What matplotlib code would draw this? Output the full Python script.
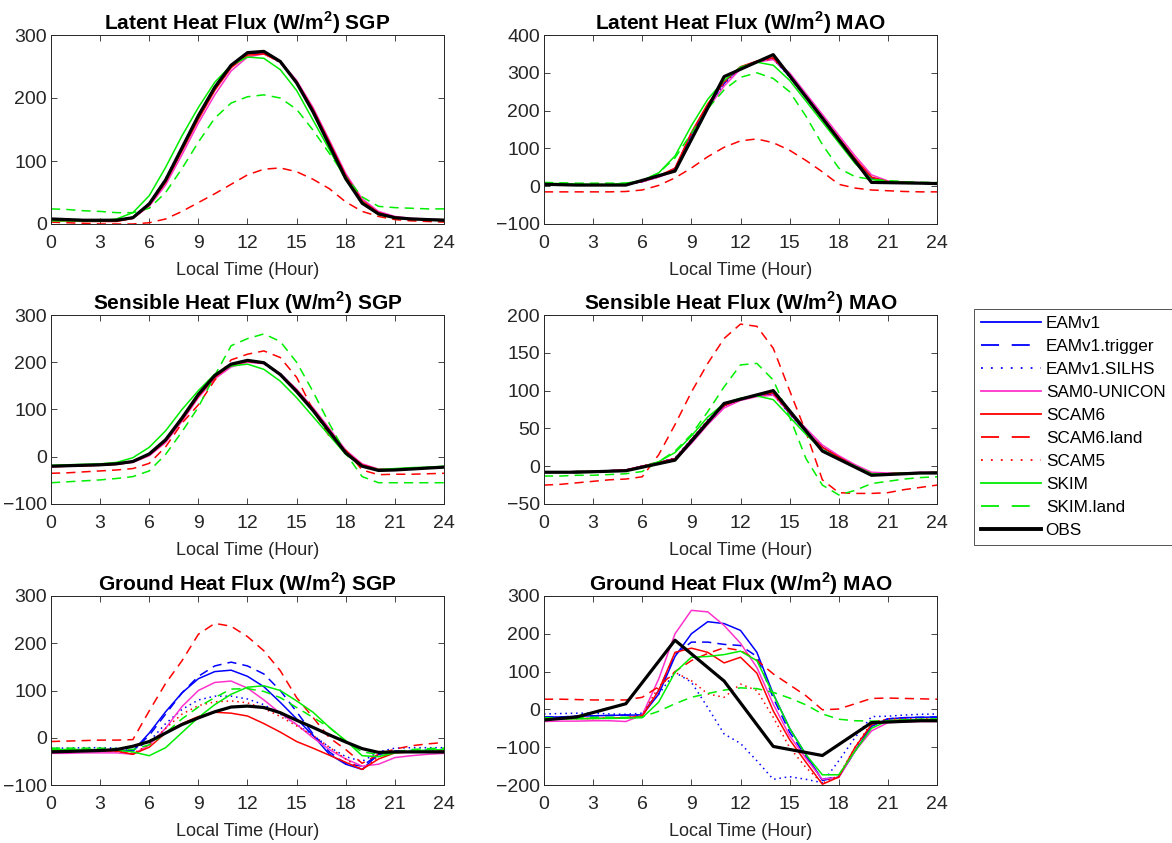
import numpy as np
import matplotlib
matplotlib.use("Agg")
import matplotlib.pyplot as plt
from matplotlib.lines import Line2D

plt.rcParams["font.family"] = ["Liberation Sans", "DejaVu Sans"]
plt.rcParams["mathtext.fontset"] = "custom"
plt.rcParams["mathtext.rm"] = "Liberation Sans"
plt.rcParams["mathtext.bf"] = "Liberation Sans:bold"

HOURS = list(range(25))
OBS_MAO_HOURS = [0, 2, 5, 8, 11, 14, 17, 20, 23, 24]

MODELS = ["EAMv1", "EAMv1.trigger", "EAMv1.SILHS", "SAM0-UNICON", "SCAM6",
          "SCAM6.land", "SCAM5", "SKIM", "SKIM.land", "OBS"]

# ---- Latent heat flux, SGP ----
lh_sgp = {
    "EAMv1":         [7, 6, 5, 5, 5, 10, 32, 70, 120, 170, 215, 250, 270, 272, 258, 225, 180, 128, 75, 35, 18, 10, 8, 7, 6],
    "EAMv1.trigger": [7, 6, 5, 5, 5, 10, 31, 68, 118, 168, 214, 250, 271, 273, 258, 226, 182, 130, 77, 36, 18, 10, 8, 7, 6],
    "EAMv1.SILHS":   [7, 6, 5, 5, 5, 11, 33, 72, 122, 172, 216, 251, 270, 271, 256, 224, 179, 127, 74, 34, 17, 10, 8, 7, 6],
    "SAM0-UNICON":   [6, 5, 5, 5, 5, 9, 28, 62, 110, 160, 205, 243, 265, 270, 258, 228, 185, 133, 80, 40, 20, 12, 9, 8, 7],
    "SCAM6":         [5, 5, 4, 4, 4, 9, 30, 66, 116, 166, 212, 248, 268, 270, 257, 226, 182, 130, 77, 37, 18, 11, 8, 7, 6],
    "SCAM6.land":    [3, 2, 1, 0, 0, 0, 2, 8, 20, 34, 48, 63, 78, 87, 89, 83, 71, 56, 35, 20, 12, 7, 5, 4, 3],
    "SCAM5":         [6, 5, 5, 5, 5, 10, 31, 68, 118, 168, 213, 249, 269, 271, 257, 225, 181, 129, 76, 36, 18, 10, 8, 7, 6],
    "SKIM":          [5, 5, 5, 5, 8, 18, 45, 90, 140, 185, 225, 252, 265, 263, 245, 212, 165, 118, 70, 35, 15, 10, 8, 7, 7],
    "SKIM.land":     [24, 23, 21, 20, 18, 18, 25, 50, 88, 130, 168, 192, 202, 205, 200, 182, 149, 112, 75, 43, 28, 26, 25, 24, 24],
    "OBS":           [8, 7, 6, 6, 6, 10, 32, 70, 121, 172, 217, 252, 272, 274, 258, 224, 178, 125, 72, 33, 16, 10, 8, 7, 6],
}

# ---- Latent heat flux, MAO ----
lh_mao = {
    "EAMv1":         [5, 4, 3, 3, 3, 5, 12, 25, 45, 140, 215, 275, 315, 330, 338, 290, 235, 180, 125, 70, 22, 12, 10, 8, 7],
    "EAMv1.trigger": [5, 4, 3, 3, 3, 5, 12, 25, 44, 138, 212, 272, 314, 330, 338, 291, 236, 181, 126, 71, 22, 12, 10, 8, 7],
    "EAMv1.SILHS":   [5, 4, 3, 3, 3, 5, 12, 26, 47, 135, 210, 270, 313, 331, 337, 289, 234, 179, 124, 69, 21, 12, 10, 8, 7],
    "SAM0-UNICON":   [4, 3, 3, 3, 3, 5, 12, 24, 40, 125, 205, 265, 310, 328, 335, 300, 245, 190, 135, 80, 30, 14, 11, 9, 8],
    "SCAM6":         [5, 4, 3, 3, 3, 5, 13, 27, 48, 142, 218, 277, 316, 331, 340, 293, 238, 183, 128, 73, 24, 12, 10, 8, 7],
    "SCAM6.land":    [-15, -15, -15, -15, -15, -14, -10, 2, 22, 48, 78, 103, 120, 125, 115, 95, 68, 38, 5, -5, -10, -12, -14, -15, -15],
    "SCAM5":         [5, 4, 3, 3, 3, 5, 12, 25, 45, 138, 214, 273, 314, 330, 337, 291, 236, 181, 126, 71, 23, 12, 10, 8, 7],
    "SKIM":          [8, 7, 6, 5, 5, 8, 15, 35, 80, 160, 230, 280, 315, 328, 320, 280, 225, 170, 115, 60, 18, 12, 10, 9, 8],
    "SKIM.land":     [10, 9, 8, 8, 8, 8, 15, 35, 75, 140, 205, 255, 288, 300, 285, 250, 185, 110, 48, 25, 18, 15, 12, 10, 10],
    "OBS":           [5, 3, 3, 40, 290, 348, 180, 10, 8, 7],
}

# ---- Sensible heat flux, SGP ----
sh_sgp = {
    "EAMv1":         [-20, -19, -18, -17, -15, -10, 5, 35, 80, 130, 170, 195, 203, 198, 175, 140, 100, 55, 10, -18, -28, -27, -25, -23, -22],
    "EAMv1.trigger": [-20, -19, -18, -17, -15, -10, 5, 34, 79, 129, 170, 195, 203, 198, 176, 141, 101, 56, 11, -18, -28, -27, -25, -23, -22],
    "EAMv1.SILHS":   [-20, -19, -18, -17, -15, -10, 6, 36, 81, 131, 171, 195, 202, 197, 174, 139, 99, 54, 9, -19, -28, -27, -25, -23, -22],
    "SAM0-UNICON":   [-21, -20, -19, -18, -16, -12, 2, 30, 75, 125, 165, 190, 200, 197, 176, 143, 104, 60, 14, -15, -26, -26, -24, -23, -22],
    "SCAM6":         [-21, -20, -19, -18, -16, -11, 4, 33, 78, 128, 168, 194, 202, 198, 175, 141, 101, 56, 11, -17, -27, -27, -25, -23, -22],
    "SCAM6.land":    [-35, -34, -32, -30, -28, -25, -14, 21, 71, 110, 162, 205, 217, 224, 210, 168, 99, 43, 14, -28, -38, -37, -37, -36, -35],
    "SCAM5":         [-20, -19, -18, -17, -15, -10, 5, 34, 79, 129, 169, 194, 202, 198, 175, 140, 100, 55, 10, -18, -27, -27, -25, -23, -22],
    "SKIM":          [-18, -17, -16, -15, -12, -2, 20, 55, 100, 140, 175, 192, 196, 185, 160, 125, 85, 45, 5, -20, -27, -25, -23, -22, -20],
    "SKIM.land":     [-55, -53, -51, -49, -46, -42, -30, 5, 53, 105, 172, 235, 250, 260, 244, 200, 138, 70, 7, -42, -55, -55, -55, -55, -55],
    "OBS":           [-20, -19, -18, -17, -15, -10, 6, 36, 82, 132, 172, 196, 204, 199, 174, 138, 98, 53, 8, -20, -29, -28, -26, -24, -22],
}

# ---- Sensible heat flux, MAO ----
sh_mao = {
    "EAMv1":         [-8, -8, -7, -7, -6, -5, 0, 5, 10, 35, 60, 80, 88, 93, 96, 70, 45, 25, 12, 0, -10, -10, -9, -9, -8],
    "EAMv1.trigger": [-8, -8, -7, -7, -6, -5, 0, 5, 10, 34, 59, 80, 88, 93, 96, 70, 46, 25, 12, 0, -10, -10, -9, -9, -8],
    "EAMv1.SILHS":   [-8, -8, -7, -7, -6, -5, 0, 5, 11, 36, 61, 81, 88, 93, 95, 69, 45, 24, 12, 0, -10, -10, -9, -9, -8],
    "SAM0-UNICON":   [-8, -8, -7, -7, -6, -5, 0, 4, 8, 30, 55, 77, 87, 92, 94, 72, 50, 28, 14, 2, -8, -9, -9, -8, -8],
    "SCAM6":         [-8, -8, -7, -7, -6, -5, 0, 5, 10, 35, 60, 80, 89, 94, 97, 71, 46, 25, 12, 0, -10, -10, -9, -9, -8],
    "SCAM6.land":    [-25, -24, -22, -20, -18, -17, -14, 15, 55, 98, 136, 169, 188, 185, 156, 100, 45, -18, -35, -36, -36, -35, -31, -28, -25],
    "SCAM5":         [-8, -8, -7, -7, -6, -5, 0, 5, 10, 35, 60, 80, 88, 93, 96, 70, 45, 25, 12, 0, -10, -10, -9, -9, -8],
    "SKIM":          [-8, -8, -7, -7, -6, -6, -1, 6, 18, 40, 65, 83, 90, 93, 88, 65, 42, 22, 10, 0, -10, -10, -9, -9, -8],
    "SKIM.land":     [-13, -13, -12, -12, -11, -10, -7, 6, 20, 42, 72, 105, 134, 136, 114, 65, 10, -25, -38, -32, -23, -20, -17, -15, -14],
    "OBS":           [-8, -8, -6, 8, 83, 100, 20, -12, -9, -9],
}

# ---- Ground heat flux, SGP ----
gh_sgp = {
    "EAMv1":         [-28, -28, -27, -27, -27, -28, 10, 55, 95, 125, 140, 143, 130, 108, 75, 40, 5, -35, -56, -67, -35, -30, -30, -28, -28],
    "EAMv1.trigger": [-25, -25, -25, -25, -26, -28, 5, 50, 95, 130, 152, 160, 152, 135, 100, 55, 8, -30, -55, -60, -35, -28, -27, -26, -25],
    "EAMv1.SILHS":   [-22, -22, -21, -21, -22, -25, -8, 30, 60, 80, 88, 88, 82, 70, 50, 28, 5, -20, -40, -50, -30, -22, -21, -21, -21],
    "SAM0-UNICON":   [-33, -33, -32, -32, -32, -35, -15, 20, 66, 100, 117, 120, 105, 80, 52, 28, 0, -25, -45, -60, -56, -42, -38, -35, -33],
    "SCAM6":         [-28, -28, -28, -28, -28, -35, -20, 10, 30, 45, 54, 52, 46, 30, 12, -8, -22, -37, -52, -67, -45, -32, -30, -29, -28],
    "SCAM6.land":    [-8, -7, -6, -5, -5, -4, 57, 115, 163, 219, 242, 236, 214, 184, 142, 85, 43, 0, -25, -54, -35, -24, -17, -13, -10],
    "SCAM5":         [-28, -28, -28, -28, -29, -33, -15, 20, 50, 68, 76, 78, 74, 62, 45, 25, 5, -20, -45, -68, -40, -30, -28, -28, -28],
    "SKIM":          [-25, -25, -25, -25, -26, -30, -38, -21, 11, 43, 70, 92, 107, 110, 100, 78, 54, 22, -6, -38, -40, -32, -28, -26, -25],
    "SKIM.land":     [-22, -22, -22, -22, -23, -25, -15, 10, 40, 65, 85, 103, 104, 98, 85, 64, 43, 22, -8, -30, -35, -30, -25, -23, -22],
    "OBS":           [-30, -29, -28, -27, -25, -18, -8, 10, 28, 42, 55, 65, 67, 64, 53, 37, 22, 6, -9, -23, -31, -30, -30, -30, -30],
}

# ---- Ground heat flux, MAO ----
gh_mao = {
    "EAMv1":         [-20, -20, -18, -17, -16, -15, -15, 40, 140, 200, 232, 227, 209, 151, 41, -50, -120, -188, -179, -110, -45, -25, -22, -21, -20],
    "EAMv1.trigger": [-20, -20, -18, -17, -16, -15, -15, 50, 145, 178, 178, 172, 169, 140, 30, -60, -125, -185, -178, -110, -40, -25, -22, -21, -20],
    "EAMv1.SILHS":   [-12, -11, -10, -10, -12, -13, -10, 40, 98, 72, 5, -65, -90, -136, -185, -178, -185, -194, -136, -74, -19, -18, -15, -13, -12],
    "SAM0-UNICON":   [-32, -31, -31, -30, -30, -32, -15, 80, 200, 262, 258, 222, 175, 111, 14, -70, -130, -185, -180, -110, -57, -35, -33, -32, -32],
    "SCAM6":         [-25, -25, -24, -24, -23, -22, -18, 50, 151, 162, 151, 123, 138, 96, -4, -80, -140, -198, -179, -100, -40, -30, -28, -27, -26],
    "SCAM6.land":    [27, 27, 26, 25, 25, 25, 32, 60, 100, 129, 148, 163, 156, 130, 94, 65, 36, -1, 1, 15, 29, 30, 29, 28, 27],
    "SCAM5":         [-25, -25, -24, -24, -23, -22, -15, 60, 98, 76, 41, 32, 67, 50, -21, -101, -154, -195, -175, -100, -35, -25, -25, -25, -25],
    "SKIM":          [-25, -25, -25, -24, -24, -23, -22, 19, 98, 138, 140, 145, 154, 129, 40, -50, -120, -173, -173, -110, -50, -30, -28, -27, -26],
    "SKIM.land":     [-22, -22, -22, -21, -21, -21, -20, -5, 15, 32, 42, 51, 57, 55, 45, 30, 12, -12, -26, -30, -31, -30, -28, -26, -25],
    "OBS":           [-28, -20, 15, 183, 75, -98, -122, -35, -30, -30],
}

DASH = (0, (6, 4))
DOT = (0, (1, 2.5))
STYLE = {
    "EAMv1":         ("#0000ff", "-"),
    "EAMv1.trigger": ("#0000ff", DASH),
    "EAMv1.SILHS":   ("#0000ff", DOT),
    "SAM0-UNICON":   ("#ff33cc", "-"),
    "SCAM6":         ("#ff0000", "-"),
    "SCAM6.land":    ("#ff0000", DASH),
    "SCAM5":         ("#ff0000", DOT),
    "SKIM":          ("#00ee00", "-"),
    "SKIM.land":     ("#00ee00", DASH),
    "OBS":           ("#000000", "-"),
}
LEG_LS = {"-": "-", DASH: (0, (10, 7)), DOT: (0, (1, 4.5))}

PANELS = [
    (lh_sgp, "Latent", "SGP", (0, 300), [0, 100, 200, 300], HOURS),
    (lh_mao, "Latent", "MAO", (-100, 400), [-100, 0, 100, 200, 300, 400], OBS_MAO_HOURS),
    (sh_sgp, "Sensible", "SGP", (-100, 300), [-100, 0, 100, 200, 300], HOURS),
    (sh_mao, "Sensible", "MAO", (-50, 200), [-50, 0, 50, 100, 150, 200], OBS_MAO_HOURS),
    (gh_sgp, "Ground", "SGP", (-100, 300), [-100, 0, 100, 200, 300], HOURS),
    (gh_mao, "Ground", "MAO", (-200, 300), [-200, -100, 0, 100, 200, 300], OBS_MAO_HOURS),
]

W, H = 1172, 843
fig = plt.figure(figsize=(W / 100, H / 100), dpi=100)
fig.patch.set_facecolor("white")

col_left = [51, 544]
col_w = 393
row_top = [35, 315, 596]
row_h = 189
AX_COL = "#262626"

for i, (data, kind, site, ylim, yticks, obs_x) in enumerate(PANELS):
    r, c = divmod(i, 2)
    ax = fig.add_axes([col_left[c] / W, 1 - (row_top[r] + row_h) / H, col_w / W, row_h / H])
    for name in MODELS:
        color, ls = STYLE[name]
        x = obs_x if name == "OBS" else HOURS
        lw = 2.3 if name == "OBS" else 1.1
        ax.plot(x, data[name], color=color, linestyle=ls, lw=lw)
    ax.set_xlim(0, 24)
    ax.set_ylim(*ylim)
    ax.set_xticks(range(0, 25, 3))
    ax.set_yticks(yticks)
    ax.tick_params(direction="in", top=True, right=True, labelsize=14,
                   colors=AX_COL, length=4, width=0.6)
    ax.tick_params(axis="x", pad=8)
    ax.tick_params(axis="y", pad=3)
    for sp in ax.spines.values():
        sp.set_color(AX_COL)
        sp.set_linewidth(0.7)
    ax.set_xlabel("Local Time (Hour)", fontsize=13, color=AX_COL, labelpad=7)
    ax.set_title(kind + r" Heat Flux (W/m$^\mathbf{2}$) " + site,
                 fontsize=15, fontweight="bold", pad=4)

handles = [Line2D([], [], color=STYLE[n][0], linestyle=LEG_LS[STYLE[n][1]],
                  lw=2.8 if n == "OBS" else 1.3) for n in MODELS]
leg = fig.legend(handles, MODELS, loc="upper left",
                 bbox_to_anchor=(974 / W, 1 - 309 / H), fontsize=12.3,
                 frameon=True, fancybox=False, handlelength=3.5,
                 handletextpad=0.3, borderpad=0.4, labelspacing=0.47,
                 borderaxespad=0)
leg.get_frame().set_edgecolor(AX_COL)
leg.get_frame().set_linewidth(0.7)

fig.savefig("out.png", dpi=100, facecolor="white")
